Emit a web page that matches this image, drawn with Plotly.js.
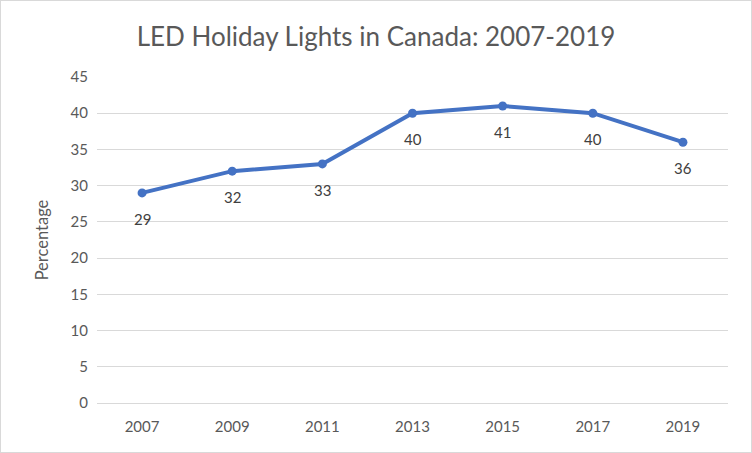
<!DOCTYPE html>
<html>
<head>
<meta charset="utf-8">
<script src="https://cdn.plot.ly/plotly-3.0.1.min.js"></script>
<style>
html,body{margin:0;padding:0;background:#fff;}
#chart{width:750px;height:451px;border:1px solid #d9d9d9;}
</style>
</head>
<body>
<div id="chart"></div>
<script>
const years = ["2007","2009","2011","2013","2015","2017","2019"];
const percentages = [29, 32, 33, 40, 41, 40, 36];
const yTicks = [0,5,10,15,20,25,30,35,40,45];
const FONT = "Lato, Calibri, sans-serif";

const trace = {
  x: years,
  y: percentages,
  type: "scatter",
  mode: "lines+markers",
  line: {color: "#4472C4", width: 4},
  marker: {color: "#4472C4", size: 9},
  cliponaxis: false,
  hoverinfo: "x+y"
};

const annotations = years.map((yr, i) => ({
  x: i, y: percentages[i], xref: "x", yref: "y",
  text: String(percentages[i]), showarrow: false,
  yshift: -26, font: {family: FONT, size: 15, color: "#404040"}
}));

const layout = {
  width: 750, height: 451,
  margin: {l: 96, r: 23, t: 76, b: 49},
  paper_bgcolor: "#fff", plot_bgcolor: "#fff",
  showlegend: false,
  annotations: annotations,
  title: {text: "LED Holiday Lights in Canada: 2007-2019", x: 0.5, xanchor: "center", y: 0.92, yanchor: "middle",
          font: {family: FONT, size: 26, color: "#595959"}},
  xaxis: {type: "category", range: [-0.5, 6.5], showgrid: false, zeroline: false, showline: true, linecolor: "#d9d9d9", linewidth: 1,
          ticks: "", ticklabelstandoff: 10, tickfont: {family: FONT, size: 15, color: "#595959"}, fixedrange: true},
  yaxis: {range: [0, 45], tickvals: yTicks, showgrid: true, gridcolor: "#d9d9d9", gridwidth: 1, zeroline: false,
          showline: false, ticks: "", ticklen: 0, ticklabelstandoff: 8,
          tickfont: {family: FONT, size: 15, color: "#595959"},
          title: {text: "Percentage", standoff: 17, font: {family: FONT, size: 16.5, color: "#595959"}},
          fixedrange: true}
};

Plotly.newPlot("chart", [trace], layout, {displayModeBar: false, staticPlot: true});
</script>
</body>
</html>
